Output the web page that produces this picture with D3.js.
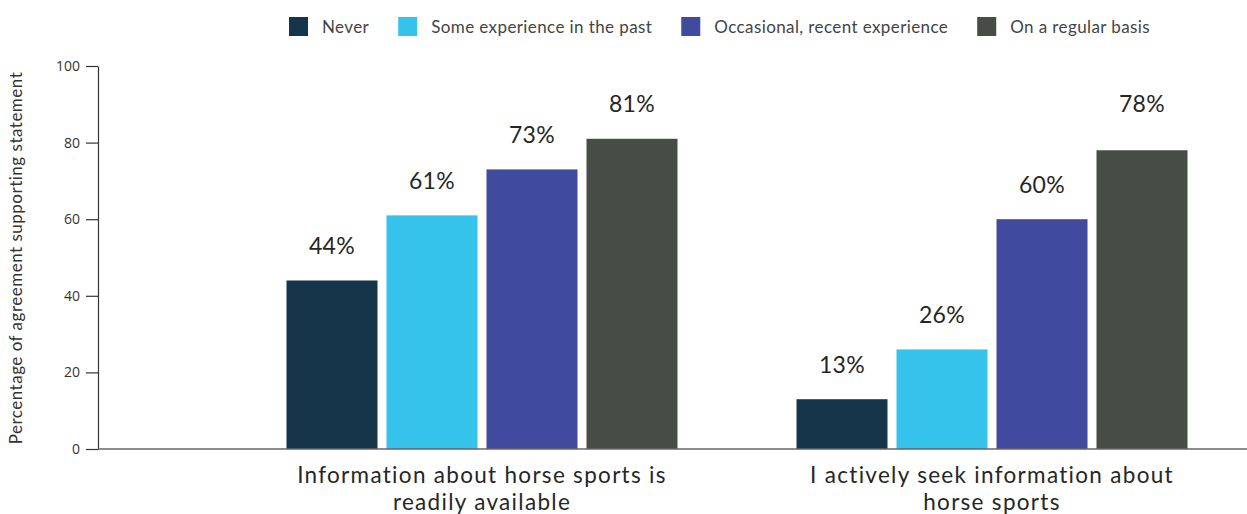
<!DOCTYPE html>
<html>
<head>
<meta charset="utf-8">
<script src="https://cdn.jsdelivr.net/npm/d3@7"></script>
<style>
  html, body { margin: 0; padding: 0; background: #ffffff; }
  svg { display: block; }
</style>
</head>
<body>
<svg id="chart" width="1247" height="514"></svg>
<script>
// Statements (x categories), each split over two lines
const categories = ["Information about horse sports is readily available", "I actively seek information about horse sports"];
const categoryLines = [["Information about horse sports is", "readily available"], ["I actively seek information about", "horse sports"]];

// Experience groups (series)
const series = ["Never", "Some experience in the past", "Occasional, recent experience", "On a regular basis"];
const seriesColors = ["#15364a", "#36c3eb", "#404a9f", "#474c47"];

// Percentage agreeing, one array per series (same order as categories)
const never = [44, 13];
const someExperience = [61, 26];
const occasional = [73, 60];
const regular = [81, 78];
const seriesValues = [never, someExperience, occasional, regular];

// Y axis ticks
const yTicks = [0, 20, 40, 60, 80, 100];
const yTitle = "Percentage of agreement supporting statement";

const svg = d3.select("#chart");

const plotLeft = 98, plotRight = 1247, plotTop = 66, plotBottom = 449;

const y = d3.scaleLinear().domain([0, 100]).range([plotBottom, plotTop]);

const x0 = d3.scaleBand().domain(categories).range([227, 1247]).padding(0);
const x1 = d3.scaleBand().domain(series).range([-195.5, 195.5]).paddingInner(0.09).paddingOuter(0);
const color = d3.scaleOrdinal().domain(series).range(seriesColors);

const rows = [];
series.forEach((s, si) => {
  categories.forEach((c, ci) => {
    rows.push({ series: s, category: c, value: seriesValues[si][ci] });
  });
});

// Bars
svg.append("g").selectAll("rect")
  .data(rows)
  .join("rect")
  .attr("x", d => x0(d.category) + x0.bandwidth() / 2 + x1(d.series))
  .attr("y", d => y(d.value))
  .attr("width", x1.bandwidth())
  .attr("height", d => y(0) - y(d.value))
  .attr("fill", d => color(d.series));

// Value labels; the tallest ones share a common row above the bars
const labelGap = 26.5;
const topRow = y(d3.max(rows, d => d.value)) - labelGap;
svg.append("g").selectAll("text")
  .data(rows)
  .join("text")
  .attr("x", d => x0(d.category) + x0.bandwidth() / 2 + x1(d.series) + x1.bandwidth() / 2)
  .attr("y", d => d.value >= 75 ? topRow : y(d.value) - labelGap)
  .attr("text-anchor", "middle")
  .attr("font-family", "Lato, 'Open Sans', sans-serif")
  .attr("font-size", 23)
  .attr("letter-spacing", 0.3)
  .attr("fill", "#262626")
  .text(d => d.value + "%");

// Y axis
const yAxis = d3.axisLeft(y).tickValues(yTicks).tickSize(12).tickSizeOuter(0).tickPadding(6);
const gy = svg.append("g").attr("transform", `translate(${plotLeft},0)`).call(yAxis);
gy.select(".domain").attr("stroke", "#333").attr("stroke-width", 1.2);
gy.selectAll(".tick line").attr("stroke", "#333").attr("stroke-width", 1.2);
gy.selectAll(".tick text")
  .attr("font-family", "'Open Sans', 'Liberation Sans', sans-serif")
  .attr("font-size", 14)
  .attr("fill", "#333");

// Baseline across the plot
svg.append("line")
  .attr("x1", plotLeft).attr("x2", plotRight)
  .attr("y1", y(0)).attr("y2", y(0))
  .attr("stroke", "#666").attr("stroke-width", 1.6);

// Y axis title
svg.append("text")
  .attr("transform", `translate(22,${(plotTop + plotBottom) / 2 + 0.5}) rotate(-90)`)
  .attr("text-anchor", "middle")
  .attr("font-family", "Lato, 'Open Sans', sans-serif")
  .attr("font-size", 17)
  .attr("letter-spacing", 0.5)
  .attr("fill", "#333")
  .text(yTitle);

// Category labels
const catG = svg.append("g").selectAll("text")
  .data(categories)
  .join("text")
  .attr("x", d => x0(d) + x0.bandwidth() / 2)
  .attr("y", 483)
  .attr("text-anchor", "middle")
  .attr("font-family", "Lato, 'Open Sans', sans-serif")
  .attr("font-size", 22.5)
  .attr("letter-spacing", 1.3)
  .attr("fill", "#262626");
catG.each(function(d, i) {
  const t = d3.select(this);
  categoryLines[i].forEach((line, li) => {
    t.append("tspan")
      .attr("x", x0(d) + x0.bandwidth() / 2)
      .attr("dy", li === 0 ? 0 : 27)
      .text(line);
  });
});

// Legend
const legend = svg.append("g").attr("transform", "translate(289,17)");
let lx = 0;
series.forEach((s) => {
  const g = legend.append("g").attr("transform", `translate(${lx},0)`);
  g.append("rect").attr("width", 19).attr("height", 19).attr("fill", color(s));
  const t = g.append("text")
    .attr("x", 33).attr("y", 16)
    .attr("font-family", "Lato, 'Open Sans', sans-serif")
    .attr("font-size", 17)
    .attr("letter-spacing", 0.4)
    .attr("fill", "#444")
    .text(s);
  lx += 33 + t.node().getComputedTextLength() + 29;
});
</script>
</body>
</html>
